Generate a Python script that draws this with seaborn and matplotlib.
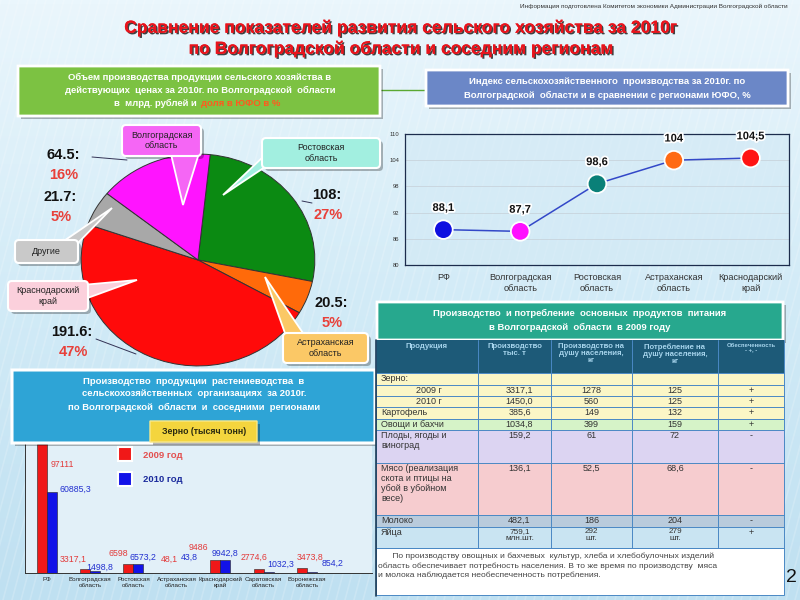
import matplotlib
matplotlib.use('Agg')
import matplotlib.pyplot as plt
import matplotlib.patheffects as pe
from matplotlib.patches import Rectangle, Polygon, FancyBboxPatch
from matplotlib.colors import LinearSegmentedColormap
import seaborn as sns
import pandas as pd
import numpy as np

sns.set_theme(style='white')
plt.rcParams['font.family'] = ['Liberation Sans', 'DejaVu Sans']

# ---------------- DATA ----------------
pie_regions = ['Ростовская область', 'Астраханская область', 'Краснодарский край',
               'Другие', 'Волгоградская область']
pie_values = [108, 20.5, 191.6, 21.7, 64.5]
pie_value_lbl = ['108:', '20.5:', '191.6:', '21.7:', '64.5:']
pie_pct_lbl = ['27%', '5%', '47%', '5%', '16%']

idx_regions = ['РФ', 'Волгоградская\nобласть', 'Ростовская\nобласть',
               'Астраханская\nобласть', 'Краснодарский\nкрай']
idx_values = [88.1, 87.7, 98.6, 104, 104.5]
idx_labels = ['88,1', '87,7', '98,6', '104', '104,5']

grain_regions = ['РФ', 'Волгоградская\nобласть', 'Ростовская\nобласть',
                 'Астраханская\nобласть', 'Краснодарский\nкрай',
                 'Саратовская\nобласть', 'Воронежская\nобласть']
grain_2009 = [97111, 3317.1, 6598, 48.1, 9486, 2774.6, 3473.8]
grain_2010 = [60885.3, 1498.8, 6573.2, 43.8, 9942.8, 1032.3, 854.2]
grain_2009_lbl = ['97111', '3317,1', '6598', '48,1', '9486', '2774,6', '3473,8']
grain_2010_lbl = ['60885,3', '1498,8', '6573,2', '43,8', '9942,8', '1032,3', '854,2']
years = ['2009 год', '2010 год']

tbl_header = ['Продукция', 'Производство\nтыс. т', 'Производство на\nдушу населения,\nкг',
              'Потребление на\nдушу населения,\nкг', 'Обеспеченность\n- +, -']
tbl_products = ['Зерно:', '2009 г', '2010 г', 'Картофель', 'Овощи и бахчи',
                'Плоды, ягоды и\nвиноград',
                'Мясо (реализация\nскота и птицы на\nубой в убойном\nвесе)',
                'Молоко', 'Яйца']
tbl_prod = ['', '3317,1', '1450,0', '385,6', '1034,8', '159,2', '136,1', '482,1', '759,1\nмлн.шт.']
tbl_percap = ['', '1278', '560', '149', '399', '61', '52,5', '186', '292\nшт.']
tbl_cons = ['', '125', '125', '132', '159', '72', '68,6', '204', '279\nшт.']
tbl_supply = ['', '+', '+', '+', '+', '-', '-', '-', '+']

# ---------------- STYLE / LAYOUT ----------------
pie_colors = ['#0b8a12', '#ff6a0a', '#ff0a0a', '#a8a8a8', '#ff14ff']
idx_colors = ['#1010e0', '#ff10ff', '#0a8078', '#ff6a14', '#ff1414']
bar_colors = ['#f01818', '#1212e8']
row_colors = ['#fbf6c6', '#fbf6c6', '#fbf6c6', '#fbf6c6', '#d6f3c8', '#dcd4f2',
              '#f6cccf', '#b9cbdc', '#c9e4f2']
W, H = 800, 600

fig = plt.figure(figsize=(8, 6), dpi=100)


def px_axes(x0, y0, x1, y1, z):
    return fig.add_axes([x0 / W, 1 - y1 / H, (x1 - x0) / W, (y1 - y0) / H], zorder=z)


# background
bg = px_axes(0, 0, 800, 600, 0)
bg.set_xlim(0, 800); bg.set_ylim(600, 0); bg.axis('off')
grad = np.linspace(0, 1, 300)[:, None]
cmap = LinearSegmentedColormap.from_list('bg', ['#eaf6fc', '#d2ebf7', '#bfe0f1'])
bg.imshow(grad, extent=[0, 800, 600, 0], aspect='auto', cmap=cmap, zorder=0)
for k in range(-600, 800, 9):
    bg.plot([k, k + 160], [600, 0], color='white', lw=1.2, alpha=0.18, zorder=1)

# overlay
ov = px_axes(0, 0, 800, 600, 10)
ov.set_xlim(0, 800); ov.set_ylim(600, 0); ov.axis('off')
ov.patch.set_alpha(0)


def box(x0, y0, x1, y1, fc, ec='white', lw=1.5, shadow=True, z=3, ax=ov, rounded=0):
    if shadow:
        ax.add_patch(FancyBboxPatch((x0 + 3, y0 + 3), x1 - x0, y1 - y0,
                                    boxstyle=f'round,pad=0,rounding_size={rounded}',
                                    fc='black', alpha=0.28, lw=0, zorder=z - 0.5))
    ax.add_patch(FancyBboxPatch((x0, y0), x1 - x0, y1 - y0,
                                boxstyle=f'round,pad=0,rounding_size={rounded}',
                                fc=fc, ec=ec, lw=lw, zorder=z))


def callout(x0, y0, x1, y1, ptr, fc, text, fs=6.5):
    ov.add_patch(Polygon(ptr, closed=True, fc=fc, ec='white', lw=1.3, zorder=3.8))
    box(x0, y0, x1, y1, fc, rounded=4, z=4)
    ov.text((x0 + x1) / 2, (y0 + y1) / 2, text, ha='center', va='center',
            fontsize=fs, color='#222222', zorder=5, linespacing=1.15)


# ---------- header ----------
ov.text(788, 6, 'Информация подготовлена Комитетом экономики Администрации Волгоградской области',
        ha='right', va='center', fontsize=4.6, color='#333333')
shadow_fx = [pe.withSimplePatchShadow(offset=(1.1, -1.1), shadow_rgbFace='#222222', alpha=0.85),
             pe.Normal()]
ov.text(401, 28, 'Сравнение показателей развития сельского хозяйства за 2010г',
        ha='center', va='center', fontsize=12.6, fontweight='bold', color='#e8141c',
        path_effects=shadow_fx)
ov.text(401, 49, 'по Волгоградской области и соседним регионам',
        ha='center', va='center', fontsize=12.6, fontweight='bold', color='#e8141c',
        path_effects=shadow_fx)

# ---------- PIE ----------
axp = px_axes(80, 153, 316, 367, 2)
axp.pie(pie_values, colors=pie_colors, startangle=84, counterclock=False,
        wedgeprops=dict(edgecolor='#333333', linewidth=0.7))
axp.set_aspect('auto')
axp.set_xlim(-1.01, 1.01); axp.set_ylim(-1.01, 1.01)
axp.patch.set_alpha(0)

box(18, 66, 380, 116, '#7cc242', lw=2)
ov.plot([380, 426], [90, 90], color='#5aa832', lw=1, zorder=2)
for yy, t in [(77, 'Объем производства продукции сельского хозяйства в'),
              (90, 'действующих  ценах за 2010г. по Волгоградской  области')]:
    ov.text(200, yy, t, ha='center', va='center', fontsize=6.8, fontweight='bold',
            color='white', zorder=5)
ov.text(199, 103, 'в  млрд. рублей и ', ha='right', va='center', fontsize=6.8,
        fontweight='bold', color='white', zorder=5)
ov.text(201, 103, 'доля в ЮФО в %', ha='left', va='center', fontsize=6.8,
        fontweight='bold', color='#ff5a1e', zorder=5)

# pie labels (order = pie_regions)
pie_lbl_pos = [(327, 195), (331, 303), (72, 332), (60, 197), (63, 155)]
for (lx, ly), vl, pl in zip(pie_lbl_pos, pie_value_lbl, pie_pct_lbl):
    ov.text(lx, ly, vl, ha='center', va='center', fontsize=10.5, fontweight='bold',
            color='#111111', zorder=5)
    ov.text(lx + 1, ly + 20, pl, ha='center', va='center', fontsize=10.5, fontweight='bold',
            color='#e8403a', zorder=5)
ov.plot([92, 127], [157, 160], color='#333355', lw=0.7, zorder=5)
ov.plot([96, 136], [339, 354], color='#333355', lw=0.7, zorder=5)
ov.plot([302, 312], [201, 203], color='#333355', lw=0.7, zorder=5)

callout(122, 125, 201, 156, [(170, 150), (200, 150), (183, 205)], '#f566f5',
        'Волгоградская\nобласть')
callout(262, 138, 380, 168, [(265, 155), (265, 167), (223, 195)], '#a2efe0',
        'Ростовская\nобласть')
callout(15, 240, 78, 263, [(58, 245), (76, 245), (112, 208)], '#c9c9c9', 'Другие')
callout(8, 281, 88, 311, [(82, 285), (82, 300), (137, 280)], '#fbd0dc',
        'Краснодарский\nкрай')
callout(283, 333, 368, 363, [(286, 336), (305, 336), (265, 277)], '#fbc866',
        'Астраханская\nобласть')

# ---------- LINE CHART ----------
box(426, 70, 788, 106, '#6b87c7', lw=2)
ov.text(607, 81, 'Индекс сельскохозяйственного  производства за 2010г. по',
        ha='center', va='center', fontsize=6.8, fontweight='bold', color='white', zorder=5)
ov.text(607, 95, 'Волгоградской  области и в сравнении с регионами ЮФО, %',
        ha='center', va='center', fontsize=6.8, fontweight='bold', color='white', zorder=5)

df_idx = pd.DataFrame({'region': idx_regions, 'value': idx_values,
                       'pos': np.arange(len(idx_regions))})
axl = px_axes(405, 134, 789, 265, 2)
axl.set_facecolor('#d2e9f5')
axl.patch.set_alpha(0.6)
sns.lineplot(data=df_idx, x='pos', y='value', ax=axl, color='#3348c8', lw=1.1, zorder=2)
sns.scatterplot(data=df_idx, x='pos', y='value', hue='region', palette=idx_colors, s=180,
                edgecolor='white', linewidth=1.3, ax=axl, legend=False, zorder=3)
for xp, v, t in zip(df_idx['pos'], idx_values, idx_labels):
    axl.annotate(t, (xp, v), xytext=(0, 12), textcoords='offset points', ha='center',
                 va='bottom', fontsize=8, fontweight='bold', color='#111111',
                 path_effects=[pe.withStroke(linewidth=2.5, foreground='white')], zorder=4)
axl.set_xlim(-0.5, len(idx_regions) - 0.5)
axl.set_ylim(80, 110)
axl.set_yticks([80, 86, 92, 98, 104, 110])
axl.yaxis.grid(True, color='#c8d4dc', lw=0.6)
axl.set_xticks(df_idx['pos'])
axl.set_xticklabels(idx_regions, fontsize=6.6, color='#333333', linespacing=1.3)
axl.set_xticks(np.arange(0.5, len(idx_regions) - 0.5), minor=True)
axl.tick_params(axis='x', which='major', length=0, pad=6)
axl.tick_params(axis='x', which='minor', length=4, direction='out', color='#1c2c4c', width=0.8)
axl.tick_params(axis='y', labelsize=4.2, length=3, color='#1c2c4c', width=0.8,
                labelcolor='#333333', pad=1)
axl.set_xlabel(''); axl.set_ylabel('')
for s in axl.spines.values():
    s.set_color('#1c2c4c'); s.set_linewidth(0.9)

# ---------- BAR CHART ----------
box(12, 370, 375, 443, '#2ea4d6', lw=2.2)
for yy, t in [(381, 'Производство  продукции  растениеводства  в'),
              (394, 'сельскохозяйственных  организациях  за 2010г.'),
              (407, 'по Волгоградской  области  и  соседними  регионами')]:
    ov.text(194, yy, t, ha='center', va='center', fontsize=6.8, fontweight='bold',
            color='white', zorder=5)
box(150, 421, 257, 442, '#f4d53e', ec='#f9e98a', lw=1, z=6)
ov.text(204, 431.5, 'Зерно (тысяч тонн)', ha='center', va='center', fontsize=6.3,
        fontweight='bold', color='#2a2a10', zorder=7)

df_bar = pd.DataFrame({
    'region': grain_regions * 2,
    'year': [years[0]] * len(grain_regions) + [years[1]] * len(grain_regions),
    'value': grain_2009 + grain_2010,
})
axb = px_axes(25, 440, 372, 573, 2)
axb.set_facecolor('#e2f0f8')
sns.barplot(data=df_bar, x='region', y='value', hue='year', order=grain_regions,
            palette=bar_colors, saturation=1, width=0.46, ax=axb, legend=False,
            edgecolor='#222222', linewidth=0.4, zorder=2)
axb.set_xlim(-0.5, 7.5)
axb.set_ylim(0, 100000)
axb.set_yticks(np.arange(0, 100001, 10000))
axb.set_yticklabels([])
axb.tick_params(axis='y', length=3, direction='out', color='#333333', width=0.6)
axb.set_xticks(np.arange(len(grain_regions)))
axb.set_xticklabels(grain_regions, fontsize=4.5, color='#222222', linespacing=1.2)
axb.set_xticks(np.arange(0.5, 7.5), minor=True)
axb.tick_params(axis='x', which='major', length=0, pad=3)
axb.tick_params(axis='x', which='minor', length=3, direction='out', color='#333333', width=0.6)
axb.set_xlabel(''); axb.set_ylabel('')
for k, s in axb.spines.items():
    s.set_color('#333333'); s.set_linewidth(0.7)
axb.spines['top'].set_visible(False)
axb.spines['right'].set_visible(False)

# label placement (x offset from category, y in data units)
lbl09_pos = [(0.37, 81400), (-0.38, 10450), (-0.36, 14900), (-0.18, 10450),
             (-0.51, 19400), (-0.22, 11950), (0.08, 11950)]
lbl10_pos = [(0.65, 62700), (0.22, 4480), (0.22, 11950), (0.28, 11950),
             (0.11, 14900), (0.4, 6700), (0.58, 7470)]
for i, (t09, t10) in enumerate(zip(grain_2009_lbl, grain_2010_lbl)):
    dx, yv = lbl09_pos[i]
    axb.text(i + dx, yv, t09, ha='center', va='center', fontsize=6.3, color='#e23a3a', zorder=4)
    dx, yv = lbl10_pos[i]
    axb.text(i + dx, yv, t10, ha='center', va='center', fontsize=6.3, color='#2230d0', zorder=4)

# legend
for yy, c, t, tc in [(454, bar_colors[0], years[0], '#e25050'),
                     (479, bar_colors[1], years[1], '#1a2a9c')]:
    ov.add_patch(Rectangle((118, yy - 7), 14, 14, fc=c, ec='white', lw=1.5, zorder=5))
    ov.text(143, yy + 1, t, ha='left', va='center', fontsize=6.8, fontweight='bold',
            color=tc, zorder=5)

# ---------- TABLE ----------
box(377, 302, 783, 340, '#27a88e', lw=2)
ov.text(580, 313, 'Производство  и потребление  основных  продуктов  питания',
        ha='center', va='center', fontsize=6.8, fontweight='bold', color='white', zorder=5)
ov.text(580, 327, 'в Волгоградской  области  в 2009 году',
        ha='center', va='center', fontsize=6.8, fontweight='bold', color='white', zorder=5)

col_x = [376, 478, 551, 632, 718, 784]
row_y = [340, 373, 385, 396, 407, 419, 430, 463, 515, 527, 548]
ov.add_patch(Rectangle((col_x[0], row_y[0]), col_x[-1] - col_x[0], row_y[1] - row_y[0],
                       fc='#1d5a78', ec='none', zorder=3))
for j, h in enumerate(tbl_header):
    ov.text((col_x[j] + col_x[j + 1]) / 2, row_y[0] + 3, h, ha='center', va='top',
            fontsize=5.6 if j < 4 else 4.3, fontweight='bold', color='#a6d4ec',
            linespacing=1.05, zorder=5)
cols = [tbl_products, tbl_prod, tbl_percap, tbl_cons, tbl_supply]
for i in range(len(tbl_products)):
    y0, y1 = row_y[i + 1], row_y[i + 2]
    ov.add_patch(Rectangle((col_x[0], y0), col_x[-1] - col_x[0], y1 - y0,
                           fc=row_colors[i], ec='none', zorder=3))
    for j in range(5):
        t = cols[j][i]
        if j == 0:
            xx = col_x[0] + (40 if tbl_products[i].endswith(' г') else 5)
            ha = 'left'
        else:
            xx = (col_x[j] + col_x[j + 1]) / 2 + (5 if j == 1 else 0)
            ha = 'center'
        ov.text(xx, y0 + 1.2, t, ha=ha, va='top', fontsize=6.5 if (j == 0 or '\n' not in t) else 5.9,
                color='#333333', linespacing=1.15 if j == 0 else 1.0, zorder=5)
for x in col_x:
    ov.plot([x, x], [row_y[0], row_y[-1]], color='#4a88c4', lw=0.7, zorder=4)
for y in row_y[1:]:
    ov.plot([col_x[0], col_x[-1]], [y, y], color='#4a88c4', lw=0.7, zorder=4)
ov.plot([col_x[0], col_x[0]], [row_y[0], 596], color='#1d3c58', lw=1.2, zorder=4)

ov.add_patch(Rectangle((col_x[0], 548), col_x[-1] - col_x[0], 47, fc='white',
                       ec='#4a88c4', lw=0.7, zorder=3))
note = ('      По производству овощных и бахчевых  культур, хлеба и хлебобулочных изделий\n'
        'область обеспечивает потребность населения. В то же время по производству  мяса\n'
        'и молока наблюдается необеспеченность потребления.')
ov.text(378, 553, note, ha='left', va='top', fontsize=6.1, color='#444444',
        linespacing=1.3, zorder=5)
ov.text(791, 577, '2', ha='center', va='center', fontsize=14, color='#111111', zorder=5)

fig.savefig('out.png', dpi=100)
